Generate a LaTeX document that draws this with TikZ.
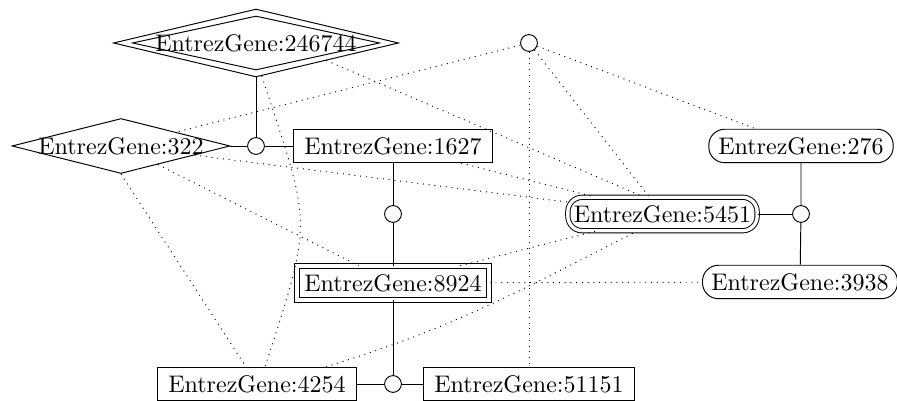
\documentclass[tikz,border=0pt]{standalone}
\usepackage{xcolor}
\usepackage{tikz}
\usetikzlibrary{shapes.geometric}

\begin{document}
\begin{tikzpicture}[x=0.4167pt, y=0.4167pt,
  gene/.style={draw, rectangle, inner xsep=4.4pt, minimum height=13.3pt},
  genedouble/.style={gene, double, double distance=1.6pt, inner xsep=3.2pt, minimum height=11.4pt},
  generound/.style={gene, rounded corners=6.6pt, inner xsep=4pt},
  generounddouble/.style={gene, double, double distance=1.4pt, rounded corners=6pt, inner xsep=2.5pt, minimum height=12pt},
  genediamond/.style={draw, diamond, inner sep=0pt},
  joint/.style={draw, circle, inner sep=0pt, minimum size=7pt},
  link/.style={dotted}]
\useasboundingbox (0,0) rectangle (897,401);
%draw gene nodes
\node[genediamond, minimum width=118.8pt, minimum height=28.3pt] (g246744) at (256,358) {};
\node[genediamond, minimum width=103pt, minimum height=22.5pt, label={center:{EntrezGene:246744}}] (g246744in) at (g246744) {};
\node[genediamond, minimum width=90.8pt, minimum height=22.9pt, label={center:{EntrezGene:322}}] (g322) at (121,255) {};
\node[gene] (g1627) at (393,255) {EntrezGene:1627};
\node[genedouble] (g8924) at (393,118) {EntrezGene:8924};
\node[gene] (g4254) at (257,17) {EntrezGene:4254};
\node[gene] (g51151) at (529,17) {EntrezGene:51151};
\node[generounddouble] (g5451) at (662.5,187) {EntrezGene:5451};
\node[generound] (g276) at (801,255) {EntrezGene:276};
\node[generound, inner xsep=3.7pt] (g3938) at (800,119) {EntrezGene:3938};
%draw joints
\node[joint] (j1) at (256,255) {};
\node[joint] (j2) at (393,187) {};
\node[joint] (j3) at (393,17) {};
\node[joint] (j4) at (801,187) {};
\node[joint] (j5) at (529,358) {};
%draw solid edges
\draw (g246744) -- (j1);
\draw (g322) -- (j1) -- (g1627);
\draw (g1627) -- (j2) -- (g8924) -- (j3);
\draw (g4254) -- (j3) -- (g51151);
\draw (g5451) -- (j4);
\draw (g276) -- (j4) -- (g3938);
%draw dotted edges
\draw[link] (j5) -- (g322);
\draw[link] (j5) -- (g5451);
\draw[link] (j5) -- (g51151);
\draw[link] (j5) -- (g276);
\draw[link] (g246744.-14) -- (g5451.138);
\draw[link] (g246744.-80) to[out=-72, in=72, looseness=1.4] (g4254.65);
\draw[link] (g1627) -- (g5451);
\draw[link] (g322) -- (g5451);
\draw[link] (g322) -- (g8924);
\draw[link] (g322.south) -- (g4254);
\draw[link] (g8924) -- (g5451);
\draw[link] (g8924) -- (g3938);
\draw[link] (g4254.14) to[out=17, in=207] (g5451.214);
\end{tikzpicture}
\end{document}
